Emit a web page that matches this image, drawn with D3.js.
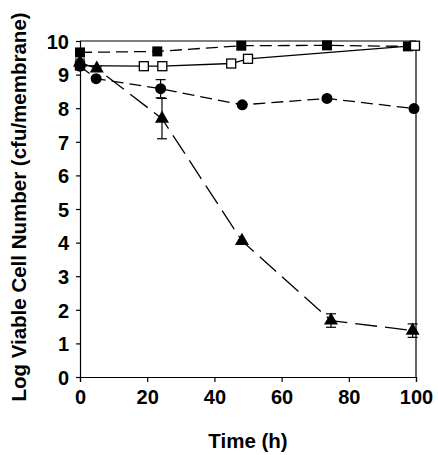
<!DOCTYPE html>
<html><head><meta charset="utf-8">
<script src="https://cdn.jsdelivr.net/npm/d3@7"></script>
<style>body{margin:0;background:#fff}svg{display:block}text{font-family:"Liberation Sans",Arial,sans-serif;font-weight:bold;fill:#000}</style>
</head><body>
<script>
const xTicks = [0, 20, 40, 60, 80, 100];
const yTicks = [0, 1, 2, 3, 4, 5, 6, 7, 8, 9, 10];
// filled squares (dashed)
const filledSquares = [{x:0,y:9.66},{x:23,y:9.69},{x:48,y:9.86},{x:73.5,y:9.87},{x:97.6,y:9.84}];
// open squares (solid)
const openSquares = [{x:0,y:9.27},{x:19,y:9.25},{x:24.5,y:9.25},{x:45,y:9.33},{x:50,y:9.47},{x:99.7,y:9.86}];
// filled circles (dashed)
const circles = [{x:0,y:9.25,e:0.08},{x:4.8,y:8.88,e:0},{x:24,y:8.58,e:0.27},{x:48.3,y:8.1,e:0},{x:73.5,y:8.29,e:0},{x:99.4,y:7.99,e:0}];
// filled triangles (long dash)
const triangles = [{x:0,y:9.36,e:0.1},{x:5,y:9.18,e:0.05},{x:24.4,y:7.69,e:0.6},{x:48.2,y:4.05,e:0},{x:74.7,y:1.68,e:0.2},{x:99,y:1.38,e:0.2}];

const W=438,H=455, m={l:80,r:22,t:41,b:78};
const svg=d3.select("body").append("svg").attr("width",W).attr("height",H);
const x=d3.scaleLinear().domain([0,100]).range([m.l,W-m.r]);
const y=d3.scaleLinear().domain([0,10]).range([H-m.b,m.t]);

// frame
svg.append("line").attr("x1",x(0)).attr("x2",x(100)).attr("y1",y(10)).attr("y2",y(10)).attr("stroke","#000").attr("stroke-width",1.2);
svg.append("line").attr("x1",x(100)).attr("x2",x(100)).attr("y1",y(10)).attr("y2",y(0)).attr("stroke","#000").attr("stroke-width",1.2);

const xa=svg.append("g").attr("transform",`translate(0,${y(0)})`).call(d3.axisBottom(x).tickValues(xTicks).tickSize(5).tickPadding(4));
const ya=svg.append("g").attr("transform",`translate(${x(0)},0)`).call(d3.axisLeft(y).tickValues(yTicks).tickSize(4).tickPadding(7));
[xa,ya].forEach(a=>{a.select(".domain").attr("stroke","#000").attr("stroke-width",1.2);a.selectAll(".tick line").attr("stroke","#000").attr("stroke-width",1.2);a.selectAll("text").style("font-size","20px").style("font-family","'Liberation Sans',Arial,sans-serif").style("font-weight","bold");});
xa.selectAll("text").attr("dy","0.88em");
ya.selectAll("text").attr("dy","0.36em");

svg.append("text").attr("x",x(50)).attr("y",448).attr("text-anchor","middle").style("font-size","20.5px").text("Time (h)");
svg.append("text").attr("transform","translate(26,207) rotate(-90)").attr("text-anchor","middle").style("font-size","20.5px").text("Log Viable Cell Number (cfu/membrane)");

const line=d3.line().x(d=>x(d.x)).y(d=>y(d.y));
const g=svg.append("g");
function path(data,dash){g.append("path").datum(data).attr("d",line).attr("fill","none").attr("stroke","#000").attr("stroke-width",1.3).attr("stroke-dasharray",dash);}
path(filledSquares,"12,6");
path(openSquares,null);
path(circles,"12,6");
path(triangles,"22,8");

function errs(data){
  data.filter(d=>d.e>0).forEach(d=>{
    g.append("line").attr("x1",x(d.x)).attr("x2",x(d.x)).attr("y1",y(d.y-d.e)).attr("y2",y(d.y+d.e)).attr("stroke","#000").attr("stroke-width",1.2);
    [d.y-d.e,d.y+d.e].forEach(v=>g.append("line").attr("x1",x(d.x)-5).attr("x2",x(d.x)+5).attr("y1",y(v)).attr("y2",y(v)).attr("stroke","#000").attr("stroke-width",1.2));
  });
}
errs(circles); errs(triangles);

g.selectAll(".fs").data(filledSquares).join("rect").attr("x",d=>x(d.x)-5).attr("y",d=>y(d.y)-5).attr("width",10).attr("height",10).attr("fill","#000");
g.selectAll(".os").data(openSquares).join("rect").attr("x",d=>x(d.x)-4.5).attr("y",d=>y(d.y)-4.5).attr("width",9).attr("height",9).attr("fill","#fff").attr("stroke","#000").attr("stroke-width",1.3);
g.selectAll(".ci").data(circles).join("circle").attr("cx",d=>x(d.x)).attr("cy",d=>y(d.y)).attr("r",5.5).attr("fill","#000");
const tri=d3.symbol().type(d3.symbolTriangle).size(85);
g.selectAll(".tr").data(triangles).join("path").attr("d",tri).attr("transform",d=>`translate(${x(d.x)},${y(d.y)})`).attr("fill","#000");
</script>
</body></html>
